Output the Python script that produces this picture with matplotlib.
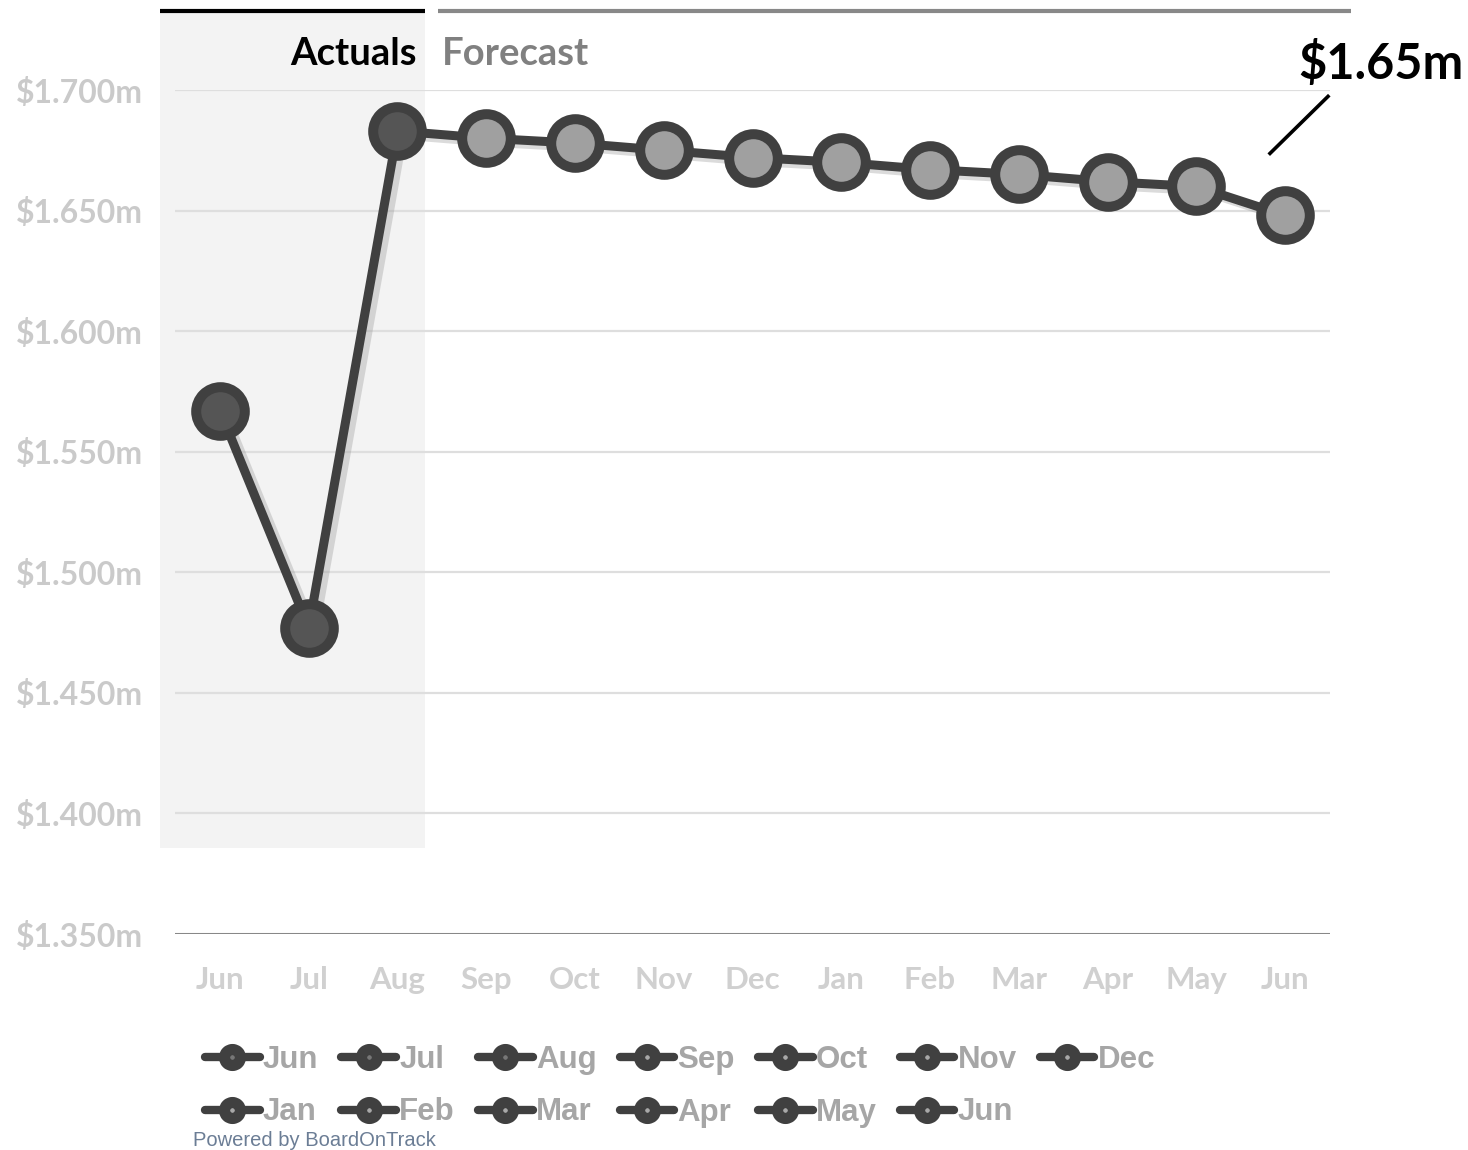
import matplotlib
matplotlib.use('Agg')
import matplotlib.pyplot as plt
import matplotlib.patheffects as pe
from matplotlib.lines import Line2D

# monthly cash position, $m (first three are actuals, the rest forecast)
months = ['Jun', 'Jul', 'Aug', 'Sep', 'Oct', 'Nov', 'Dec',
          'Jan', 'Feb', 'Mar', 'Apr', 'May', 'Jun']
values = [1.567, 1.477, 1.683, 1.680, 1.678, 1.675, 1.672,
          1.670, 1.667, 1.665, 1.662, 1.660, 1.648]
n_actual = 3
yticks = [1.35, 1.40, 1.45, 1.50, 1.55, 1.60, 1.65, 1.70]
end_label = '$1.65m'

EDGE = '#404040'
ACT_FILL = '#555555'
FC_FILL = '#a0a0a0'

fig = plt.figure(figsize=(14.68, 11.5), dpi=100)
ax = fig.add_axes([175/1468, 216/1150, 1155/1468, 844/1150])

x = list(range(len(months)))
ax.set_xlim(-0.507, 12.507)
ax.set_ylim(1.35, 1.70)

# shaded band behind the actual months + header bars
xax = ax.get_xaxis_transform()
ax.axvspan(-0.676, 2.31, ymin=0.102, ymax=1.092, color='#f3f3f3',
           zorder=0, clip_on=False, lw=0)
ax.plot([-0.676, 2.31], [1.0936, 1.0936], transform=xax,
        color='black', lw=3, clip_on=False, solid_capstyle='butt')
ax.plot([2.46, 12.74], [1.0936, 1.0936], transform=xax,
        color='#888888', lw=3, clip_on=False, solid_capstyle='butt')
ax.text(2.22, 1.0 + 36/844, 'Actuals', transform=xax,
        ha='right', va='center', fontsize=27.5, fontweight='bold',
        family='Lato', color='black')
ax.text(2.5, 1.0 + 36/844, 'Forecast', transform=xax,
        ha='left', va='center', fontsize=27.5, fontweight='bold',
        family='Lato', color='#808080')

# grid + baseline
for t in yticks[1:]:
    ax.axhline(t, color='#dedede', lw=1.6, zorder=1)
ax.axhline(1.35, color='#888888', lw=2.2, zorder=1)
for s in ax.spines.values():
    s.set_visible(False)

ax.set_yticks(yticks)
ax.set_yticklabels(['$%.3fm' % t for t in yticks])
ax.set_xticks(x)
ax.set_xticklabels(months)
ax.tick_params(length=0)
ax.tick_params(axis='y', pad=23, labelsize=23, labelcolor='#cacaca')
ax.tick_params(axis='x', pad=23, labelsize=22.5, labelcolor='#d0d0d0')
for lab in ax.get_xticklabels() + ax.get_yticklabels():
    lab.set_family('Lato')
    lab.set_fontweight('bold')

# the series line with a soft drop shadow
shadow = [pe.SimpleLineShadow(offset=(4, -3), shadow_color='#999999', alpha=0.35),
          pe.Normal()]
ax.plot(x, values, color=EDGE, lw=6.5, zorder=3, path_effects=shadow,
        solid_capstyle='round')
ax.plot(x[:n_actual], values[:n_actual], ls='none', marker='o', ms=35,
        mfc=ACT_FILL, mec=EDGE, mew=7.2, zorder=4, clip_on=False)
ax.plot(x[n_actual:], values[n_actual:], ls='none', marker='o', ms=35,
        mfc=FC_FILL, mec=EDGE, mew=7.2, zorder=4, clip_on=False)

# end-value callout
px_x = 1 / 88.75
px_y = 0.05 / 120.6
ax.plot([x[-1] - 15*px_x, x[-1] + 43*px_x],
        [values[-1] + 62*px_y, values[-1] + 119*px_y],
        color='black', lw=2.6, clip_on=False)
ax.text(x[-1] + 96*px_x, values[-1] + 152*px_y, end_label, ha='center',
        va='center', fontsize=35, fontweight='bold', family='Lato',
        color='black', clip_on=False)

# legend, one entry per month, filled row by row
handles = []
for i, m in enumerate(months):
    h = Line2D([], [], color=EDGE, lw=6, marker='o', ms=11.5, mew=8,
               mec=EDGE, mfc='#777777' if i < n_actual else '#a8a8a8',
               solid_capstyle='round', label=m)
    handles.append(h)
order = []
for c in range(7):
    order.append(c)
    if c + 7 < len(handles):
        order.append(c + 7)
leg = fig.legend([handles[i] for i in order], [months[i] for i in order],
                 ncol=7, loc='upper left', bbox_to_anchor=(205/1468, 1 - 1045/1150),
                 frameon=False, handlelength=1.75, handletextpad=0.1,
                 columnspacing=0.74, labelspacing=0.72, borderpad=0, borderaxespad=0,
                 prop={'family': 'Liberation Sans', 'weight': 'bold', 'size': 22.5})
for t in leg.get_texts():
    t.set_color('#a6a6a6')

fig.text(193/1468, 1 - 1140/1150, 'Powered by BoardOnTrack', ha='left',
         va='center', fontsize=14.5, family='Liberation Sans', color='#6b7d95')

fig.savefig('out.png', dpi=100)
